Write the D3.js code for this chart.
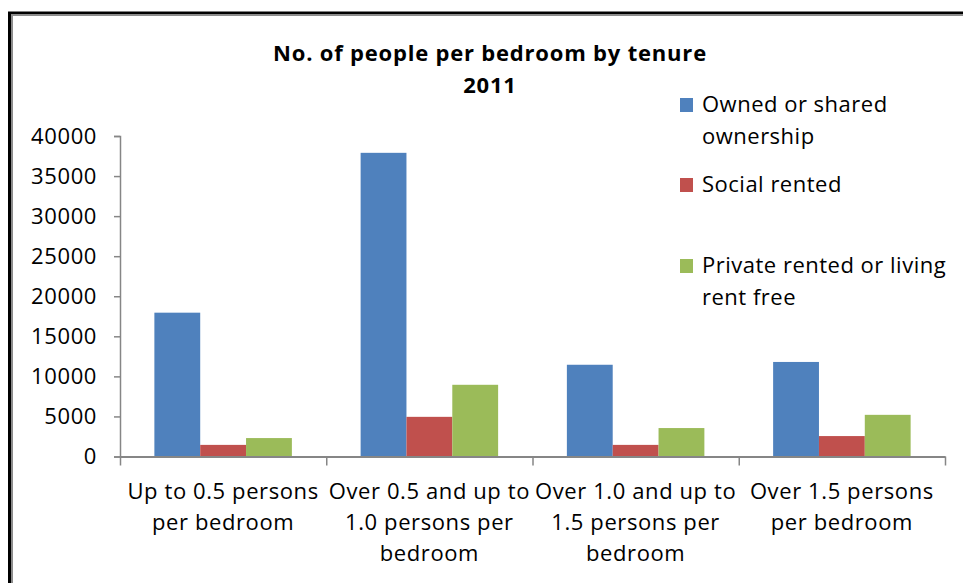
<!DOCTYPE html>
<html>
<head>
<meta charset="utf-8">
<script src="https://cdn.jsdelivr.net/npm/d3@7"></script>
<style>
  html, body { margin: 0; padding: 0; background: #fff; }
  svg { display: block; }
  text { font-family: "Open Sans", "Noto Sans", sans-serif; fill: #000; }
</style>
</head>
<body>
<svg id="chart" width="963" height="583"></svg>
<script>
const categories = [
  ["Up to 0.5 persons", "per bedroom"],
  ["Over 0.5 and up to", "1.0 persons per", "bedroom"],
  ["Over 1.0 and up to", "1.5 persons per", "bedroom"],
  ["Over 1.5 persons", "per bedroom"]
];
const seriesNames = ["Owned or shared ownership", "Social rented", "Private rented or living rent free"];
const legendLines = [["Owned or shared", "ownership"], ["Social rented"], ["Private rented or living", "rent free"]];
const owned = [17950, 37900, 11450, 11800];
const social = [1450, 4950, 1450, 2550];
const privateRented = [2300, 8950, 3550, 5200];
const yTicks = [0, 5000, 10000, 15000, 20000, 25000, 30000, 35000, 40000];
const colors = ["#4F81BD", "#C0504D", "#9BBB59"];
const titleLines = ["No. of people per bedroom by tenure", "2011"];

const svg = d3.select("#chart");
svg.append("rect").attr("width", 963).attr("height", 583).attr("fill", "#fff");

// frame
svg.append("path").attr("d", "M9.5,590 V13 H970").attr("fill", "none").attr("stroke", "#000").attr("stroke-width", 3);
svg.append("path").attr("d", "M12,590 V15 H970").attr("fill", "none").attr("stroke", "#8c8c8c").attr("stroke-width", 2);

const plot = { left: 120, right: 945, top: 136, bottom: 456.5 };
const catIdx = d3.range(categories.length);
const x0 = d3.scaleBand().domain(catIdx).range([plot.left, plot.right]).paddingInner(0).paddingOuter(0);
const x1 = d3.scaleBand().domain(d3.range(seriesNames.length)).range([0, x0.bandwidth()]).paddingInner(0).paddingOuter(0.75);
const y = d3.scaleLinear().domain([0, 40000]).range([plot.bottom, plot.top]);

const values = [owned, social, privateRented];

// bars
values.forEach((vals, si) => {
  svg.append("g").selectAll("rect").data(vals).join("rect")
    .attr("x", (d, i) => x0(i) + x1(si))
    .attr("width", x1.bandwidth())
    .attr("y", d => y(d))
    .attr("height", d => y(0) - y(d))
    .attr("fill", colors[si]);
});

// y axis
const yAxis = svg.append("g").attr("transform", `translate(${plot.left},0)`)
  .call(d3.axisLeft(y).tickValues(yTicks).tickSize(6).tickPadding(17).tickFormat(d3.format("d")));
yAxis.select(".domain").attr("stroke", "#868686").attr("stroke-width", 1.5);
yAxis.selectAll(".tick line").attr("stroke", "#868686").attr("stroke-width", 1.5);
yAxis.selectAll(".tick text").attr("font-size", 22).attr("letter-spacing", 0.6)
  .attr("font-family", "'Open Sans', sans-serif").attr("fill", "#000");

// x axis
const xb = d3.scaleLinear().domain([0, categories.length]).range([plot.left, plot.right]);
const xAxis = svg.append("g").attr("transform", `translate(0,${plot.bottom})`)
  .call(d3.axisBottom(xb).tickValues(d3.range(categories.length + 1)).tickSize(9).tickSizeOuter(0).tickFormat(""));
xAxis.select(".domain").attr("stroke", "#868686").attr("stroke-width", 2);
xAxis.selectAll(".tick line").attr("stroke", "#868686").attr("stroke-width", 1.5);

// category labels
const catG = svg.append("g");
categories.forEach((lines, i) => {
  const t = catG.append("text").attr("text-anchor", "middle").attr("font-size", 22).attr("letter-spacing", 0.6);
  lines.forEach((ln, j) => {
    t.append("tspan").attr("x", x0(i) + x0.bandwidth() / 2).attr("y", 499 + j * 31).text(ln);
  });
});

// title
const tt = svg.append("text").attr("text-anchor", "middle").attr("font-weight", "bold").attr("font-size", 22).attr("letter-spacing", 0.8);
titleLines.forEach((ln, j) => {
  tt.append("tspan").attr("x", 490).attr("y", 61 + j * 32).text(ln);
});

// legend
const legendY = [98, 178, 259];
legendLines.forEach((lines, i) => {
  svg.append("rect").attr("x", 680).attr("y", legendY[i]).attr("width", 13).attr("height", 14).attr("fill", colors[i]);
  const t = svg.append("text").attr("font-size", 22).attr("letter-spacing", 0.5);
  lines.forEach((ln, j) => {
    t.append("tspan").attr("x", 702).attr("y", legendY[i] + 14 + j * 32).text(ln);
  });
});
</script>
</body>
</html>
